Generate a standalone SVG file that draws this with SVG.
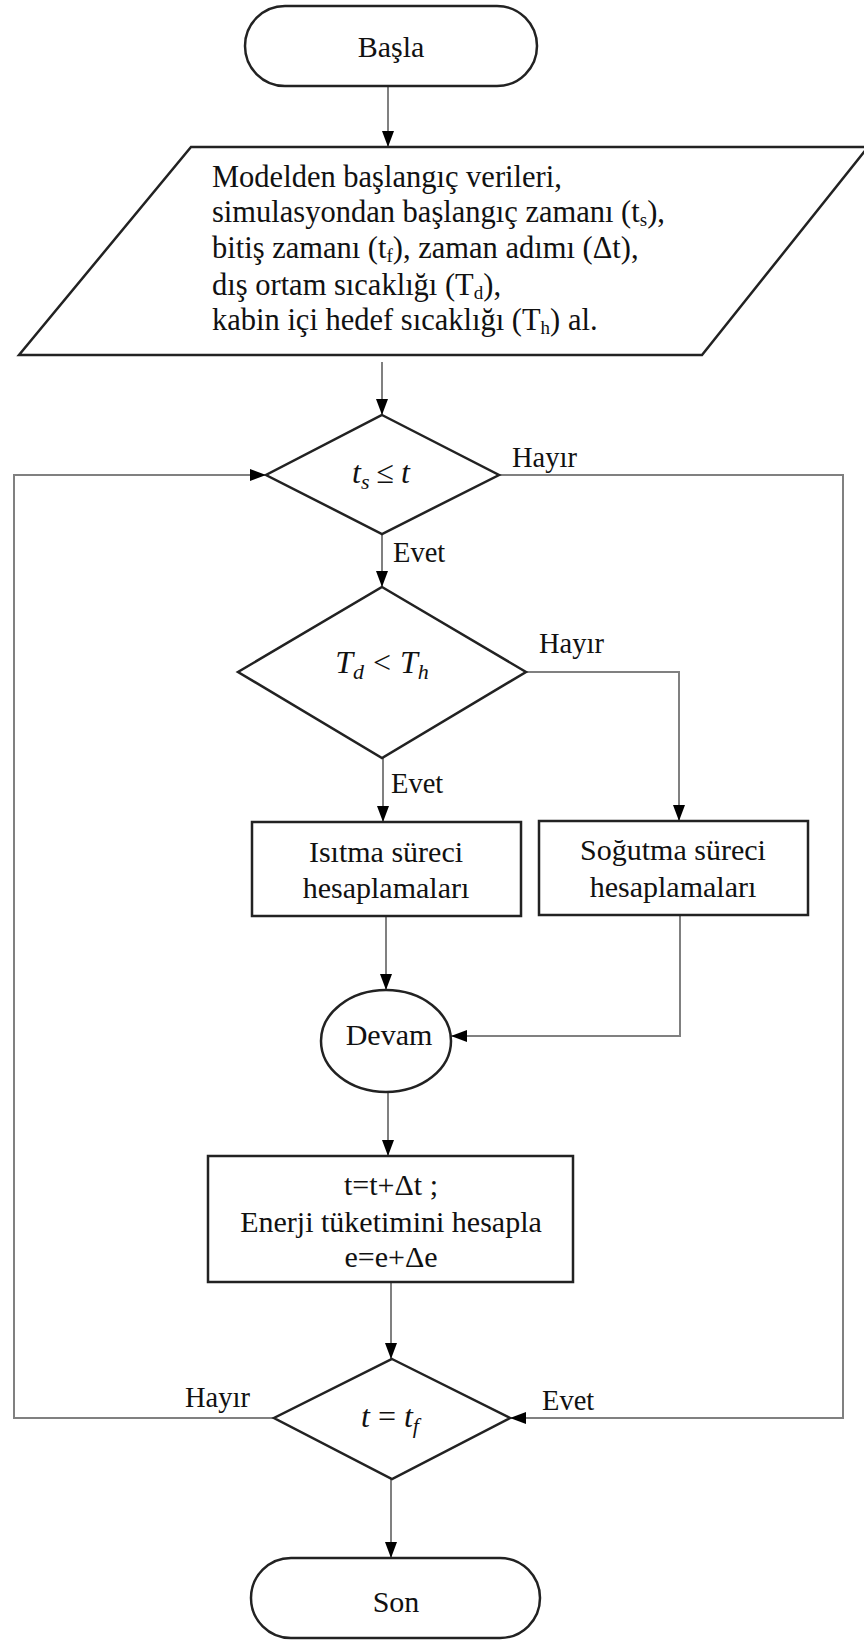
<svg xmlns="http://www.w3.org/2000/svg" width="864" height="1641" viewBox="0 0 864 1641">
<style>
.shape{fill:#fff;stroke:#222;stroke-width:2.5}
.conn{fill:none;stroke:#808080;stroke-width:2}
.t{font-family:"Liberation Serif","Times New Roman",serif;font-size:30px;fill:#111}
.p{font-family:"Liberation Serif","Times New Roman",serif;font-size:30.5px;fill:#111}
.c{text-anchor:middle}
.lbl{font-family:"Liberation Serif","Times New Roman",serif;font-size:28.5px;fill:#111}
.m{font-family:"Liberation Serif","Times New Roman",serif;font-size:32px;fill:#111;text-anchor:middle}
.i{font-style:italic}
</style>
<defs>
<marker id="ah" markerUnits="userSpaceOnUse" markerWidth="16" markerHeight="12" refX="16" refY="6" orient="auto">
<path d="M0,0 L16,6 L0,12 z" fill="#000"/>
</marker>
</defs>
<rect width="864" height="1641" fill="#fff"/>

<g id="connectors">
<path class="conn" d="M388,86 V147" marker-end="url(#ah)"/>
<path class="conn" d="M382,362 V415" marker-end="url(#ah)"/>
<path class="conn" d="M382,534 V587" marker-end="url(#ah)"/>
<path class="conn" d="M383,758 V822" marker-end="url(#ah)"/>
<path class="conn" d="M526,672 H679 V821" marker-end="url(#ah)"/>
<path class="conn" d="M386,916 V990" marker-end="url(#ah)"/>
<path class="conn" d="M680,915 V1036 H451" marker-end="url(#ah)"/>
<path class="conn" d="M388,1092 V1156" marker-end="url(#ah)"/>
<path class="conn" d="M391,1282 V1359" marker-end="url(#ah)"/>
<path class="conn" d="M391,1479 V1558" marker-end="url(#ah)"/>
<path class="conn" d="M274,1418 H14 V475 H266" marker-end="url(#ah)"/>
<path class="conn" d="M499,475 H843 V1418 H510" marker-end="url(#ah)"/>
<text class="lbl" x="512" y="467">Hayır</text>
<text class="lbl" x="393" y="562">Evet</text>
<text class="lbl" x="539" y="653">Hayır</text>
<text class="lbl" x="391" y="793">Evet</text>
<text class="lbl" x="185" y="1407">Hayır</text>
<text class="lbl" x="542" y="1410">Evet</text>
</g>

<g id="start">
<rect class="shape" x="245" y="6" width="292" height="80" rx="40"/>
<text class="t c" x="391" y="57">Başla</text>
</g>

<g id="input">
<polygon class="shape" points="191,147 868,147 702,355 19,355"/>
<text class="p" x="212" y="187">Modelden başlangıç verileri,</text>
<text class="p" x="212" y="222">simulasyondan başlangıç zamanı (t<tspan font-size="19" dy="4">s</tspan><tspan dy="-4">),</tspan></text>
<text class="p" x="212" y="258">bitiş zamanı (t<tspan font-size="19" dy="4">f</tspan><tspan dy="-4">), zaman adımı (Δt),</tspan></text>
<text class="p" x="212" y="295">dış ortam sıcaklığı (T<tspan font-size="19" dy="4">d</tspan><tspan dy="-4">),</tspan></text>
<text class="p" x="212" y="330">kabin içi hedef sıcaklığı (T<tspan font-size="19" dy="4">h</tspan><tspan dy="-4">) al.</tspan></text>
</g>

<g id="cond1">
<polygon class="shape" points="382,415 499,475 382,534 266,475"/>
<text class="m" x="381" y="483"><tspan class="i">t</tspan><tspan class="i" font-size="22" dy="6">s</tspan><tspan dy="-6" dx="7">≤</tspan><tspan class="i" dx="7">t</tspan></text>
</g>

<g id="cond2">
<polygon class="shape" points="382,587 526,672 382,758 238,672"/>
<text class="m" x="382" y="673"><tspan class="i">T</tspan><tspan class="i" font-size="22" dy="6">d</tspan><tspan dy="-6" dx="9">&lt;</tspan><tspan class="i" dx="9">T</tspan><tspan class="i" font-size="22" dy="6">h</tspan></text>
</g>

<g id="heating">
<rect class="shape" x="252" y="822" width="269" height="94"/>
<text class="t c" x="386" y="862">Isıtma süreci</text>
<text class="t c" x="386" y="898">hesaplamaları</text>
</g>

<g id="cooling">
<rect class="shape" x="539" y="821" width="269" height="94"/>
<text class="t c" x="673" y="860">Soğutma süreci</text>
<text class="t c" x="673" y="897">hesaplamaları</text>
</g>

<g id="continue">
<ellipse class="shape" cx="386" cy="1041" rx="65" ry="51"/>
<text class="t c" x="389" y="1045">Devam</text>
</g>

<g id="update">
<rect class="shape" x="208" y="1156" width="365" height="126"/>
<text class="t c" x="391" y="1195">t=t+Δt ;</text>
<text class="t c" x="391" y="1232">Enerji tüketimini hesapla</text>
<text class="t c" x="391" y="1267">e=e+Δe</text>
</g>

<g id="cond3">
<polygon class="shape" points="392,1359 510,1418 392,1479 274,1418"/>
<text class="m" x="390" y="1427"><tspan class="i">t</tspan><tspan dx="8">=</tspan><tspan class="i" dx="8">t</tspan><tspan class="i" font-size="22" dy="6">f</tspan></text>
</g>

<g id="end">
<rect class="shape" x="251" y="1558" width="289" height="80" rx="40"/>
<text class="t c" x="396" y="1612">Son</text>
</g>
</svg>
